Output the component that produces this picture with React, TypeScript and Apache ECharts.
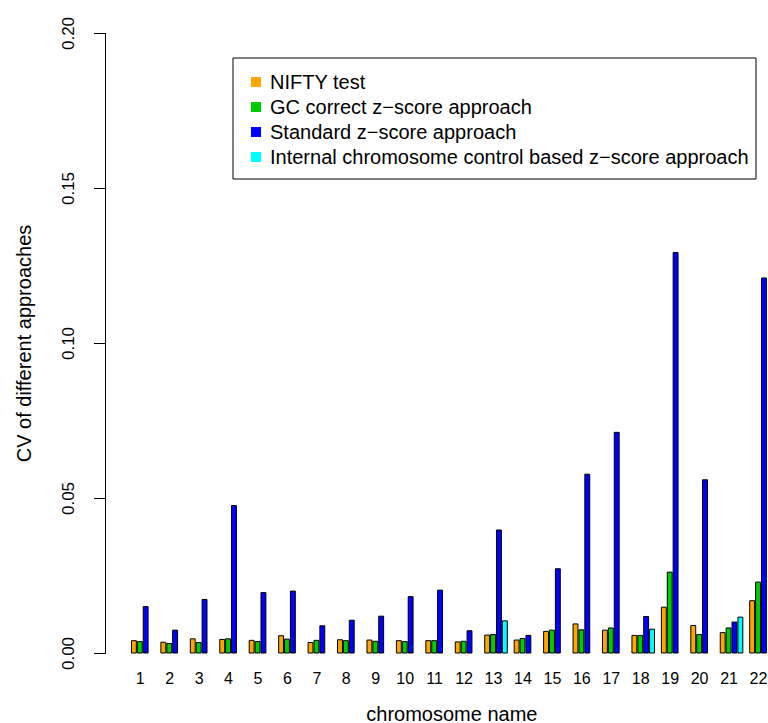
import React, { useEffect, useRef } from "react";
import * as echarts from "echarts";

const categories = ["1","2","3","4","5","6","7","8","9","10","11","12","13","14","15","16","17","18","19","20","21","22"];
const seriesNames = [
  "NIFTY test",
  "GC correct z\u2212score approach",
  "Standard z\u2212score approach",
  "Internal chromosome control based z\u2212score approach",
];
const seriesColors = ["#FFA500", "#00CD00", "#0000FF", "#00FFFF"];
const nifty = [0.0043, 0.0038, 0.0049, 0.0047, 0.0044, 0.0059, 0.0037, 0.0046, 0.0045, 0.0043, 0.0043, 0.0039, 0.0061, 0.0045, 0.0073, 0.0097, 0.0077, 0.0060, 0.0151, 0.0092, 0.0069, 0.0172];
const gcCorrect = [0.0040, 0.0034, 0.0037, 0.0049, 0.0040, 0.0048, 0.0044, 0.0043, 0.0041, 0.0040, 0.0043, 0.0041, 0.0063, 0.0050, 0.0077, 0.0078, 0.0084, 0.0060, 0.0264, 0.0063, 0.0084, 0.0232];
const standard = [0.0153, 0.0077, 0.0176, 0.0479, 0.0198, 0.0203, 0.0091, 0.0109, 0.0122, 0.0185, 0.0206, 0.0075, 0.0400, 0.0060, 0.0275, 0.0580, 0.0715, 0.0121, 0.1295, 0.0562, 0.0103, 0.1213];
const internal = [null, null, null, null, null, null, null, null, null, null, null, null, 0.0107, null, null, null, null, 0.0080, null, null, 0.0119, null];
const yTicks = [0, 0.05, 0.1, 0.15, 0.2];

const FONT = "'Liberation Sans', Arial, Helvetica, sans-serif";

export default function App() {
  const ref = useRef<HTMLDivElement>(null);
  useEffect(() => {
    if (!ref.current) return;
    const chart = echarts.init(ref.current, undefined, { renderer: "svg" });
    const values = [nifty, gcCorrect, standard, internal];
    chart.setOption({
      animation: false,
      backgroundColor: "#fff",
      textStyle: { fontFamily: FONT, color: "#000" },
      grid: { left: 128, width: 647.7, top: 33.5, height: 620, containLabel: false, outerBoundsMode: "none" },
      legend: {
        orient: "vertical",
        left: 246,
        top: 67,
        itemWidth: 10,
        itemHeight: 10,
        itemGap: 5,
        icon: "rect",
        itemStyle: { borderWidth: 0 },
        textStyle: { fontFamily: FONT, fontSize: 20, color: "#000", lineHeight: 20, padding: [0, 0, 0, 4] },
        data: seriesNames,
      },
      graphic: [
        {
          type: "rect",
          shape: { x: 233, y: 58, width: 523, height: 121 },
          style: { fill: "none", stroke: "#000", lineWidth: 1 },
          z: 100,
        },
      ],
      xAxis: {
        type: "category",
        data: categories,
        axisLine: { show: false },
        axisTick: { show: false },
        axisLabel: {
          interval: 0,
          fontSize: 16,
          color: "#000",
          fontFamily: FONT,
          margin: 17,
          hideOverlap: false,
          padding: [0, 5, 0, 0],
        },
        name: "chromosome name",
        nameLocation: "middle",
        nameGap: 50,
        nameTextStyle: { fontSize: 20, color: "#000", fontFamily: FONT },
      },
      yAxis: {
        type: "value",
        min: yTicks[0],
        max: yTicks[yTicks.length - 1],
        interval: 0.05,
        offset: 23,
        axisLine: { show: true, lineStyle: { color: "#000", width: 1 } },
        axisTick: { show: true, length: 11, lineStyle: { color: "#000", width: 1 } },
        splitLine: { show: false },
        axisLabel: {
          rotate: 90,
          margin: 28,
          fontSize: 17,
          color: "#000",
          fontFamily: FONT,
          formatter: (v: number) => v.toFixed(2),
        },
        name: "CV of different approaches",
        nameLocation: "middle",
        nameGap: 71,
        nameTextStyle: { fontSize: 20, color: "#000", fontFamily: FONT },
      },
      series: seriesNames.map((name, i) => ({
        name,
        type: "bar",
        data: values[i],
        barGap: "0%",
        barCategoryGap: "20%",
        itemStyle: { color: seriesColors[i], borderColor: "#000", borderWidth: 1 },
      })),
    });
    return () => chart.dispose();
  }, []);
  return (
    <div
      ref={ref}
      style={{ position: "fixed", left: 0, top: 0, width: 768, height: 723, overflow: "hidden" }}
    />
  );
}
